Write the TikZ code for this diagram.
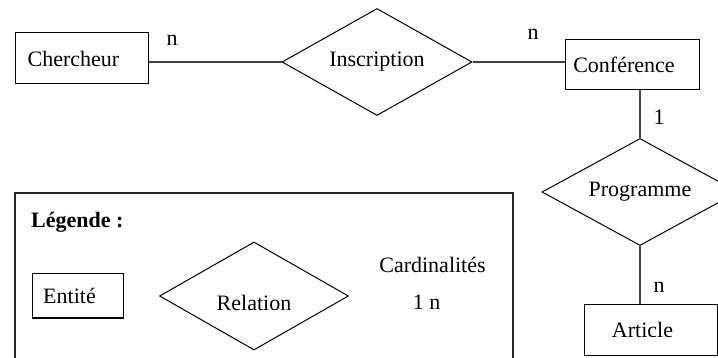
\documentclass[tikz,border=0pt]{standalone}
\usepackage{fontspec}
\setmainfont{Liberation Serif}
\usetikzlibrary{shapes.geometric,positioning}

\begin{document}
\begin{tikzpicture}[
    x=1pt, y=-1pt,
    font=\fontsize{22}{26}\selectfont,
    entite/.style={rectangle, draw, line width=1pt, inner sep=0pt,
                   execute at begin node={\hspace*{-16pt}}},
    relation/.style={diamond, draw, line width=1pt, inner sep=0pt, aspect=1.76,
                     minimum width=190pt, minimum height=107pt},
    lien/.style={line width=1.3pt, black!75},
    card/.style={inner sep=0pt},
]
    \clip (0,0) rectangle (718,358);
    % Entites et relations
    \node[entite, minimum width=133pt, minimum height=51pt] (chercheur) at (81.5,58.5) {Chercheur};
    \node[relation] (inscription) at (377,62) {Inscription};
    \node[entite, minimum width=134pt, minimum height=50pt] (conference) at (632,65) {Conférence};
    \node[relation, minimum width=196pt] (programme) at (640,192) {Programme};
    \node[entite, minimum width=133pt, minimum height=50pt] (article) at (650.5,330) {Article};
    % Liens
    \draw[lien] (inscription.west -| chercheur.east) -- (inscription.west);
    \draw[lien] (inscription.east) -- (inscription.east -| conference.west);
    \draw[lien] (programme.north |- conference.south) -- (programme.north);
    \draw[lien] (programme.south) -- (programme.south |- article.north);
    % Cardinalites
    \node[card] (cardCh)   at (172,40)  {n};
    \node[card] (cardConf) at (533,34)  {n};
    \node[card] (cardProg) at (659,117) {1};
    \node[card] (cardArt)  at (659,287) {n};
    % Legende
    \node[draw, line width=1.3pt, black!85, minimum width=498pt, minimum height=190pt,
          inner sep=0pt] (legende) at (264,288) {};
    \node[anchor=west, inner sep=0pt, font=\fontsize{22}{26}\selectfont\bfseries]
        (titre) at (31,222) {Légende :};
    \node[entite, minimum width=91pt, minimum height=44pt] (entite) at (77.5,296) {Entité};
    \node[relation, minimum width=189pt, minimum height=108pt] (rel) at (254,296) {};
    \node[inner sep=0pt] (reltxt) at ([yshift=-7pt]rel.center) {Relation};
    \node[inner sep=0pt] (cardinalites) at (432.5,265) {Cardinalités};
    \node[inner sep=0pt] (exemple) at (426.5,302) {1 n};
\end{tikzpicture}
\end{document}
